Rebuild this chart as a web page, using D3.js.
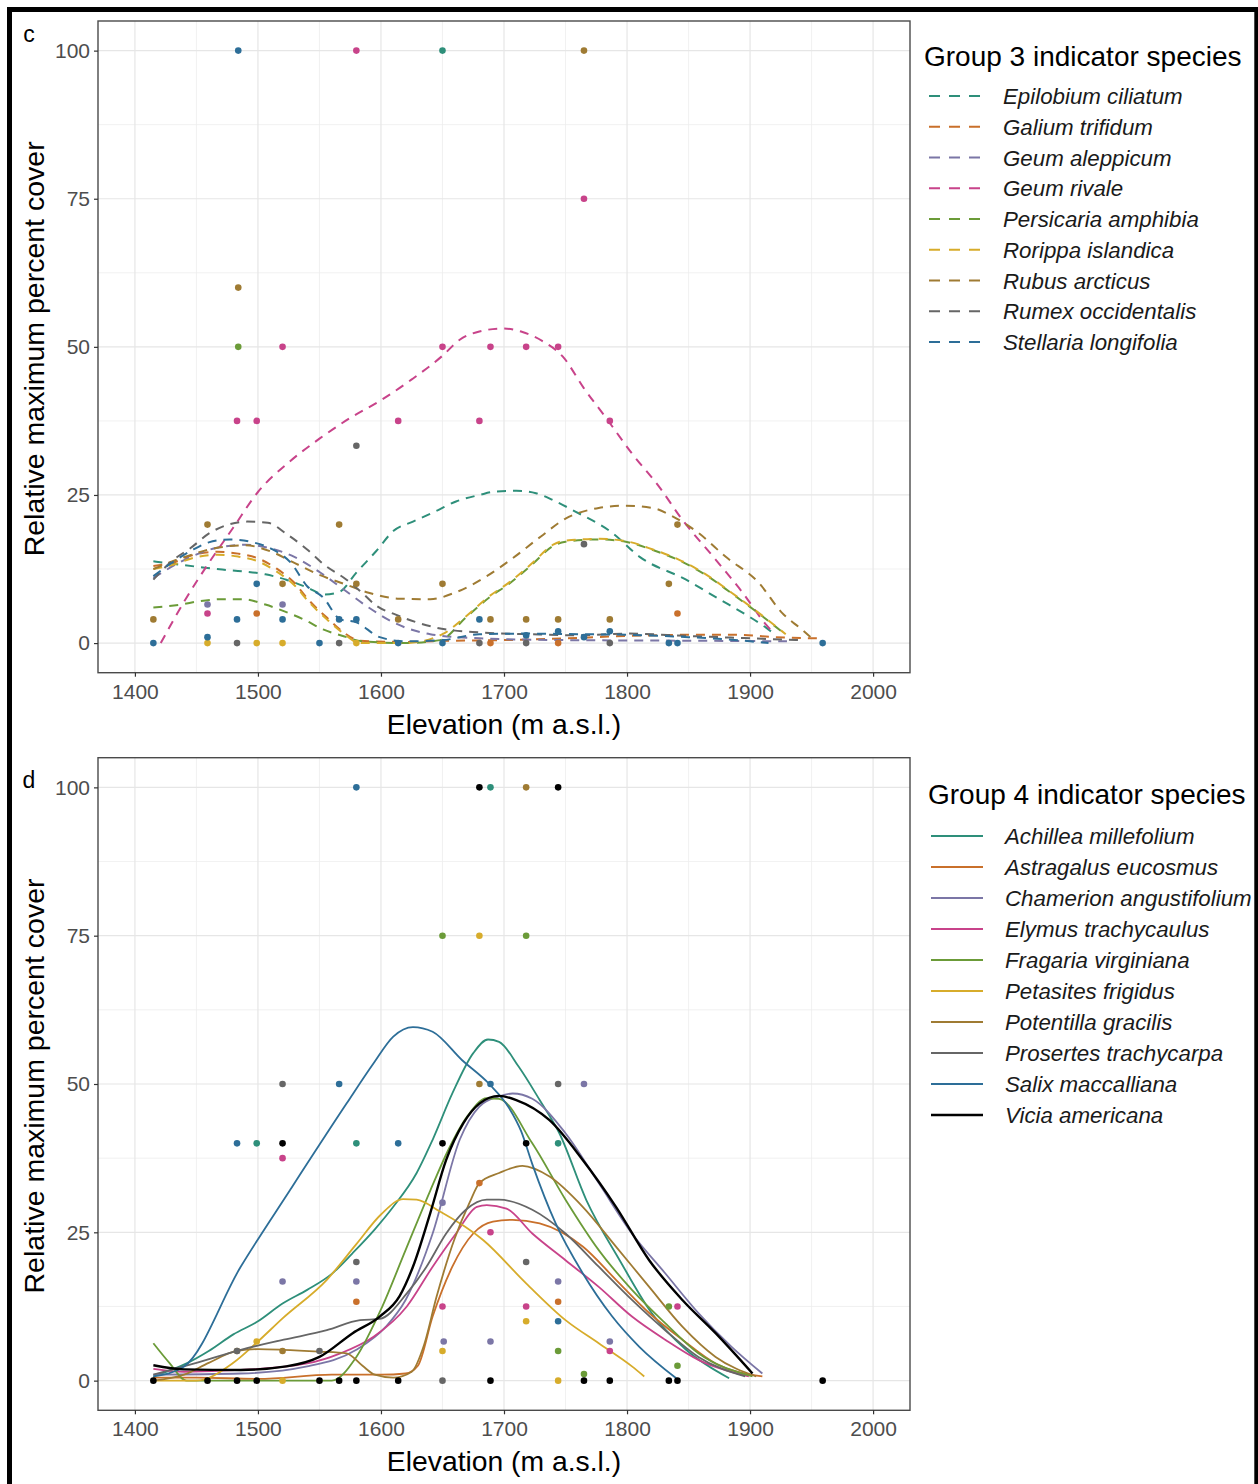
<!DOCTYPE html>
<html>
<head>
<meta charset="utf-8">
<script src="https://cdn.jsdelivr.net/npm/d3@7"></script>
<style>
  body { margin: 0; background: #fff; }
  svg { display: block; }
  text { font-family: "Liberation Sans", Arial, Helvetica, sans-serif; }
</style>
</head>
<body>
<svg id="fig" width="1258" height="1484"></svg>
<script>
// ---------- axes ----------
const elevationTicks = [1400, 1500, 1600, 1700, 1800, 1900, 2000];
const elevationMinor = [1450, 1550, 1650, 1750, 1850, 1950];
const coverTicks = [0, 25, 50, 75, 100];
const coverMinor = [12.5, 37.5, 62.5, 87.5];

// ---------- group 3 (panel c) ----------
const group3Names = ["Epilobium ciliatum", "Galium trifidum", "Geum aleppicum", "Geum rivale",
  "Persicaria amphibia", "Rorippa islandica", "Rubus arcticus", "Rumex occidentalis", "Stellaria longifolia"];

// observed relative maximum cover [elevation, cover]
const epilobiumCiliatumObs = [[1650, 100]];
const galiumTrifidumObs = [[1499, 5], [1689, 0], [1744, 0], [1841, 5]];
const geumAleppicumObs = [[1459, 6.5], [1520, 6.5]];
const geumRivaleObs = [[1459, 5], [1483, 37.5], [1499, 37.5], [1520, 50], [1580, 100], [1614, 37.5],
  [1650, 50], [1680, 37.5], [1689, 50], [1718, 50], [1744, 50], [1765, 75], [1786, 37.5]];
const persicariaAmphibiaObs = [[1484, 50]];
const rorippaIslandicaObs = [[1459, 0], [1499, 0], [1520, 0], [1580, 0]];
const rubusArcticusObs = [[1415, 4], [1459, 20], [1484, 60], [1520, 10], [1566, 20], [1580, 10], [1614, 4],
  [1650, 10], [1689, 4], [1718, 4], [1744, 4], [1765, 100], [1786, 4], [1834, 10], [1841, 20]];
const rumexOccidentalisObs = [[1483, 0], [1566, 0], [1580, 33.3], [1680, 0], [1718, 0], [1765, 16.7], [1786, 0]];
const stellariaLongifoliaObs = [[1415, 0], [1459, 1], [1484, 100], [1483, 4], [1499, 10], [1520, 4], [1550, 0],
  [1566, 4], [1580, 4], [1614, 0], [1650, 0], [1680, 4], [1718, 1.3], [1744, 2], [1765, 1], [1786, 2],
  [1834, 0], [1841, 0], [1959, 0]];

// smoothed response curves [elevation, fitted cover]
const epilobiumCiliatumFit = [[1415, 13.8], [1450, 12.9], [1471, 12.4], [1488, 12.1], [1506, 11.6], [1523, 10.7],
  [1540, 9.4], [1554, 8.2], [1566, 8.6], [1580, 11.9], [1596, 15.5], [1610, 18.9], [1626, 20.5], [1644, 22.2],
  [1661, 23.9], [1680, 25], [1694, 25.6], [1710, 25.7], [1726, 25.3], [1742, 23.9], [1758, 22.2], [1788, 18.6],
  [1810, 14.6], [1848, 10.7], [1875, 7.4], [1899, 4.5], [1913, 2.6], [1920, 1.5]];
const galiumTrifidumFit = [[1415, 13], [1431, 13.6], [1448, 14.9], [1467, 15.4], [1484, 15.1], [1500, 14.3],
  [1515, 12.6], [1529, 10.3], [1542, 7.1], [1556, 4.3], [1569, 1.9], [1583, 0.4], [1620, 0.2], [1660, 0.4],
  [1700, 0.5], [1750, 0.8], [1800, 1.2], [1850, 1.4], [1890, 1.4], [1920, 1], [1955, 0.8]];
const geumAleppicumFit = [[1415, 11], [1440, 14], [1465, 16], [1490, 16.6], [1510, 16], [1530, 14.5],
  [1550, 12], [1570, 9], [1590, 6], [1610, 3.5], [1640, 1.5], [1680, 0.8], [1750, 0.5], [1850, 0.4], [1930, 0.3]];
const geumRivaleFit = [[1421, 0], [1440, 7], [1460, 13.5], [1480, 19.5], [1500, 25.5], [1525, 30.5], [1550, 34.5],
  [1575, 38], [1600, 41], [1625, 44.5], [1650, 48.5], [1664, 51.2], [1680, 52.6], [1699, 53.1], [1715, 52.5],
  [1731, 51], [1748, 48.3], [1765, 43], [1783, 38], [1804, 32], [1826, 26.4], [1845, 20.8], [1872, 14.1],
  [1894, 8.5], [1913, 3.1], [1920, 1.5]];
const persicariaAmphibiaFit = [[1415, 6], [1437, 6.5], [1453, 7.1], [1471, 7.4], [1488, 7.4], [1506, 6.5],
  [1521, 5.4], [1537, 4], [1553, 2.3], [1569, 1.2], [1585, 0.3], [1620, 0], [1648, 0.5], [1669, 4.3],
  [1688, 7.7], [1704, 10], [1723, 13.3], [1740, 16.4], [1750, 17.1], [1777, 17.5], [1799, 17.1], [1821, 15.7],
  [1842, 14], [1864, 11.5], [1885, 8.4], [1907, 5], [1929, 1.4]];
const rorippaIslandicaFit = [[1415, 12.5], [1431, 13.2], [1448, 14.4], [1467, 14.9], [1484, 14.6], [1500, 13.8],
  [1515, 12.1], [1529, 9.9], [1542, 6.8], [1556, 4], [1569, 1.7], [1583, 0], [1620, 0], [1650, 1.5],
  [1669, 4.5], [1688, 7.9], [1704, 10.2], [1723, 13.5], [1740, 16.6], [1750, 17.3], [1777, 17.6], [1799, 17.2],
  [1821, 15.8], [1842, 14.1], [1864, 11.6], [1885, 8.5], [1907, 5.1], [1929, 1.5]];
const rubusArcticusFit = [[1415, 12.5], [1440, 14.5], [1465, 16], [1490, 16.5], [1510, 15.5], [1530, 13.5],
  [1550, 11.5], [1570, 10], [1590, 8.5], [1615, 7.5], [1640, 7.4], [1660, 8.5], [1686, 11.3], [1705, 14],
  [1730, 18], [1750, 21], [1777, 22.8], [1799, 23.2], [1821, 22.8], [1837, 21.4], [1858, 18.6], [1880, 14.6],
  [1907, 10.2], [1926, 5.1], [1942, 2.3], [1952, 0.5]];
const rumexOccidentalisFit = [[1415, 10.7], [1431, 14], [1445, 16], [1461, 18.6], [1476, 20], [1491, 20.5],
  [1508, 20.3], [1524, 18.3], [1540, 15.8], [1554, 13.2], [1572, 10.7], [1583, 8.8], [1597, 6.2], [1612, 4.8],
  [1629, 3.5], [1645, 2.6], [1680, 1.8], [1720, 1.5], [1760, 1.3], [1800, 1.6], [1850, 1.2], [1900, 0.8], [1940, 0.5]];
const stellariaLongifoliaFit = [[1415, 11.3], [1445, 15.5], [1460, 17], [1477, 17.5], [1496, 17], [1512, 15.8],
  [1527, 13.5], [1540, 9.6], [1553, 7.7], [1567, 4], [1580, 3.5], [1599, 1], [1620, 0.3], [1650, 0.5],
  [1680, 1.5], [1720, 1.6], [1760, 1.5], [1800, 1.4], [1850, 1], [1900, 0.3], [1915, 0]];

// ---------- group 4 (panel d) ----------
const group4Names = ["Achillea millefolium", "Astragalus eucosmus", "Chamerion angustifolium", "Elymus trachycaulus",
  "Fragaria virginiana", "Petasites frigidus", "Potentilla gracilis", "Prosertes trachycarpa", "Salix maccalliana",
  "Vicia americana"];

const achilleaMillefoliumObs = [[1499, 40], [1580, 40], [1689, 100], [1744, 40]];
const astragalusEucosmusObs = [[1580, 13.3], [1680, 33.3], [1744, 13.3]];
const chamerionAngustifoliumObs = [[1520, 16.7], [1580, 16.7], [1650, 30], [1651, 6.6], [1689, 6.6], [1744, 16.7],
  [1765, 50], [1786, 6.6]];
const elymusTrachycaulusObs = [[1520, 37.5], [1650, 12.5], [1689, 25], [1718, 12.5], [1786, 5], [1841, 12.5]];
const fragariaVirginianaObs = [[1650, 75], [1718, 75], [1744, 5], [1765, 1.1], [1834, 12.5], [1841, 2.5]];
const petasitesFrigidusObs = [[1499, 6.6], [1520, 0], [1650, 5], [1680, 75], [1718, 10], [1744, 0]];
const potentillaGracilisObs = [[1483, 5], [1520, 5], [1680, 50], [1718, 100]];
const prosertesTrachycarpaObs = [[1483, 5], [1520, 50], [1550, 5], [1580, 20], [1650, 0], [1718, 20], [1744, 50]];
const salixMaccallianaObs = [[1483, 40], [1566, 50], [1580, 100], [1614, 40], [1689, 50], [1744, 10]];
const viciaAmericanaObs = [[1415, 0], [1459, 0], [1483, 0], [1499, 0], [1520, 40], [1550, 0], [1566, 0], [1580, 0],
  [1614, 0], [1650, 40], [1680, 100], [1689, 0], [1718, 40], [1744, 100], [1765, 0], [1786, 0], [1834, 0],
  [1841, 0], [1959, 0]];

const achilleaMillefoliumFit = [[1415, 0.7], [1442, 2.9], [1460, 5], [1480, 7.8], [1500, 10], [1520, 13],
  [1540, 15.3], [1560, 18], [1577, 21.5], [1595, 25.5], [1610, 29.3], [1629, 35], [1642, 40.6], [1658, 48.4],
  [1675, 55.2], [1687, 57.5], [1696, 57.1], [1712, 52.9], [1729, 47.3], [1745, 41.7], [1767, 30.4], [1794, 20.3],
  [1820, 11.4], [1848, 5.2], [1883, 0.4]];
const astragalusEucosmusFit = [[1415, 0.5], [1450, 0.5], [1500, 0.3], [1560, 1], [1600, 1], [1620, 1.2],
  [1630, 2.5], [1642, 10.8], [1658, 19.2], [1675, 24.8], [1691, 26.8], [1707, 27.1], [1729, 26.5], [1764, 22.6],
  [1791, 17], [1818, 11.4], [1845, 6.9], [1872, 2.9], [1910, 0.7]];
const chamerionAngustifoliumFit = [[1415, 1], [1486, 1.2], [1540, 2.4], [1580, 5.2], [1604, 9.1], [1620, 13.6],
  [1642, 24.8], [1664, 40.6], [1680, 46.2], [1696, 47.9], [1707, 48.4], [1723, 47.5], [1750, 41.7], [1777, 33.3],
  [1804, 24.8], [1831, 18.1], [1858, 11.4], [1885, 5.7], [1910, 1.2]];
const elymusTrachycaulusFit = [[1415, 2], [1440, 1.5], [1486, 1.8], [1540, 2.9], [1567, 4.6], [1594, 7.4],
  [1621, 12.5], [1642, 19.2], [1661, 24.8], [1678, 29.3], [1686, 29.6], [1702, 29], [1723, 24.8], [1750, 20.3],
  [1777, 15.8], [1804, 10.8], [1831, 6.9], [1858, 3.5], [1899, 0.7]];
const fragariaVirginianaFit = [[1415, 6.3], [1428, 3], [1442, 0], [1500, 0], [1560, 0], [1580, 4], [1600, 12],
  [1620, 22], [1640, 32], [1655, 39], [1670, 44.5], [1686, 47.6], [1696, 47.5], [1723, 40], [1750, 30.5],
  [1777, 22], [1804, 15.3], [1831, 9.7], [1858, 4.6], [1902, 0.7]];
const petasitesFrigidusFit = [[1415, 0], [1450, 0], [1480, 3], [1500, 6.6], [1520, 10.5], [1556, 17], [1580, 23],
  [1600, 28], [1618, 30.6], [1629, 30.5], [1648, 28.5], [1683, 23.7], [1718, 16.4], [1750, 10.2], [1777, 6.3],
  [1804, 2.4], [1814, 0.7]];
const potentillaGracilisFit = [[1415, 0], [1440, 1], [1460, 3], [1483, 5], [1500, 5.3], [1520, 5.2], [1550, 4.9],
  [1572, 4.6], [1585, 2.5], [1595, 1], [1610, 0.5], [1625, 1.5], [1635, 6], [1645, 14], [1660, 24], [1672, 30],
  [1680, 33.3], [1696, 35], [1715, 36.2], [1737, 34.4], [1764, 29.3], [1791, 22.6], [1818, 15.8], [1845, 9.1],
  [1872, 4], [1905, 0.7]];
const prosertesTrachycarpaFit = [[1415, 1], [1450, 3], [1486, 5.2], [1521, 6.9], [1556, 8.5], [1583, 10.2],
  [1599, 10.4], [1621, 14.7], [1637, 19.2], [1653, 24.8], [1669, 28.8], [1686, 30.5], [1696, 30.5], [1723, 28.8],
  [1750, 24.8], [1777, 19.2], [1804, 13.6], [1831, 8.5], [1858, 4], [1896, 0.7]];
const salixMaccallianaFit = [[1415, 0.7], [1440, 2.4], [1486, 19.2], [1526, 32.1], [1572, 46.7], [1594, 53.5],
  [1610, 58], [1626, 59.6], [1642, 58.8], [1666, 54], [1688, 50], [1704, 46], [1714, 42], [1723, 36.5],
  [1742, 26.5], [1764, 18.1], [1788, 10.8], [1810, 5.7], [1840, 0.4]];
const viciaAmericanaFit = [[1415, 2.6], [1440, 1.9], [1486, 1.8], [1523, 2.4], [1550, 4], [1577, 8], [1599, 10.8],
  [1615, 14.2], [1626, 19.2], [1640, 28.2], [1653, 37.2], [1667, 43.4], [1680, 46.7], [1696, 48], [1710, 47.3],
  [1737, 43.9], [1764, 37.2], [1791, 29.3], [1818, 20.3], [1845, 13.6], [1872, 8], [1902, 1.2]];

// ---------- colours ----------
const palette = ["#2e8f7a", "#c9702b", "#7b76a6", "#c8438a", "#6b9b38", "#d7ac2b", "#9f7b33", "#666666", "#2d6e98", "#000000"];

const group3Obs = [epilobiumCiliatumObs, galiumTrifidumObs, geumAleppicumObs, geumRivaleObs, persicariaAmphibiaObs,
  rorippaIslandicaObs, rubusArcticusObs, rumexOccidentalisObs, stellariaLongifoliaObs];
const group3Fit = [epilobiumCiliatumFit, galiumTrifidumFit, geumAleppicumFit, geumRivaleFit, persicariaAmphibiaFit,
  rorippaIslandicaFit, rubusArcticusFit, rumexOccidentalisFit, stellariaLongifoliaFit];
const group3Colors = palette.slice(0, 9);

const group4Obs = [achilleaMillefoliumObs, astragalusEucosmusObs, chamerionAngustifoliumObs, elymusTrachycaulusObs,
  fragariaVirginianaObs, petasitesFrigidusObs, potentillaGracilisObs, prosertesTrachycarpaObs, salixMaccallianaObs,
  viciaAmericanaObs];
const group4Fit = [achilleaMillefoliumFit, astragalusEucosmusFit, chamerionAngustifoliumFit, elymusTrachycaulusFit,
  fragariaVirginianaFit, petasitesFrigidusFit, potentillaGracilisFit, prosertesTrachycarpaFit, salixMaccallianaFit,
  viciaAmericanaFit];
const group4Colors = palette.slice();

// ---------- drawing ----------
const svg = d3.select("#fig");
svg.append("rect").attr("width", 1258).attr("height", 1484).attr("fill", "#fff");

const plotLeft = 98, plotRight = 910;
const x = d3.scaleLinear().domain([1370, 2030]).range([plotLeft, plotRight]);
const FONT = '"Liberation Sans", Arial, sans-serif';

function drawPanel(cfg) {
  const y = d3.scaleLinear().domain([-5, 105]).range([cfg.bottom, cfg.top]);
  const g = svg.append("g");

  // panel background and grid
  g.append("rect").attr("x", plotLeft).attr("y", cfg.top)
    .attr("width", plotRight - plotLeft).attr("height", cfg.bottom - cfg.top).attr("fill", "#fff");
  const grid = g.append("g");
  grid.selectAll("line.xm").data(elevationMinor).join("line")
    .attr("x1", d => x(d)).attr("x2", d => x(d)).attr("y1", cfg.top).attr("y2", cfg.bottom)
    .attr("stroke", "#eeeeee").attr("stroke-width", 0.8);
  grid.selectAll("line.ym").data(coverMinor).join("line")
    .attr("y1", d => y(d)).attr("y2", d => y(d)).attr("x1", plotLeft).attr("x2", plotRight)
    .attr("stroke", "#eeeeee").attr("stroke-width", 0.8);
  grid.selectAll("line.xM").data(elevationTicks).join("line")
    .attr("x1", d => x(d)).attr("x2", d => x(d)).attr("y1", cfg.top).attr("y2", cfg.bottom)
    .attr("stroke", "#e6e6e6").attr("stroke-width", 1.2);
  grid.selectAll("line.yM").data(coverTicks).join("line")
    .attr("y1", d => y(d)).attr("y2", d => y(d)).attr("x1", plotLeft).attr("x2", plotRight)
    .attr("stroke", "#e6e6e6").attr("stroke-width", 1.2);

  // fitted curves
  const line = d3.line().x(d => x(d[0])).y(d => y(d[1])).curve(d3.curveMonotoneX);
  const clipId = "clip-" + cfg.tag;
  svg.append("clipPath").attr("id", clipId).append("rect")
    .attr("x", plotLeft).attr("y", cfg.top).attr("width", plotRight - plotLeft).attr("height", cfg.bottom - cfg.top);
  const curves = g.append("g").attr("clip-path", `url(#${clipId})`);
  cfg.fits.forEach((fit, i) => {
    curves.append("path").datum(fit).attr("d", line)
      .attr("fill", "none").attr("stroke", cfg.colors[i])
      .attr("stroke-width", cfg.widths[i])
      .attr("stroke-dasharray", cfg.dash || null)
      .attr("stroke-linejoin", "round");
  });

  // observations
  const dots = g.append("g");
  cfg.obs.forEach((pts, i) => {
    dots.selectAll(null).data(pts).join("circle")
      .attr("cx", d => x(d[0])).attr("cy", d => y(d[1])).attr("r", 3.3)
      .attr("fill", cfg.colors[i]);
  });

  // panel border
  g.append("rect").attr("x", plotLeft).attr("y", cfg.top)
    .attr("width", plotRight - plotLeft).attr("height", cfg.bottom - cfg.top)
    .attr("fill", "none").attr("stroke", "#4a4a4a").attr("stroke-width", 1.4);

  // axes
  const xAxis = g.append("g").attr("transform", `translate(0,${cfg.bottom})`)
    .call(d3.axisBottom(x).tickValues(elevationTicks).tickSize(4).tickPadding(7).tickFormat(d3.format("d")));
  const yAxis = g.append("g").attr("transform", `translate(${plotLeft},0)`)
    .call(d3.axisLeft(y).tickValues(coverTicks).tickSize(4).tickPadding(4));
  [xAxis, yAxis].forEach(a => {
    a.select(".domain").remove();
    a.selectAll(".tick line").attr("stroke", "#333").attr("stroke-width", 1.2);
    a.selectAll(".tick text").attr("fill", "#4d4d4d").style("font-size", "21px").style("font-family", FONT);
  });

  // axis titles
  g.append("text").attr("x", (plotLeft + plotRight) / 2).attr("y", cfg.bottom + 61)
    .attr("text-anchor", "middle").style("font-size", "28.3px").attr("fill", "#000")
    .text("Elevation (m a.s.l.)");
  g.append("text").attr("transform", `translate(44,${(cfg.top + cfg.bottom) / 2 + 2}) rotate(-90)`)
    .attr("text-anchor", "middle").style("font-size", "28.5px").attr("fill", "#000")
    .text("Relative maximum percent cover");

  // panel tag
  g.append("text").attr("x", 29).attr("y", cfg.tagY).attr("text-anchor", "middle")
    .style("font-size", "23px").attr("fill", "#000").text(cfg.tag);

  // legend
  const lg = g.append("g");
  lg.append("text").attr("x", cfg.legendX).attr("y", cfg.legendTitleY)
    .style("font-size", "28px").attr("fill", "#000").text(cfg.title);
  cfg.names.forEach((name, i) => {
    const cy = cfg.legendRow0 + i * cfg.legendStep;
    lg.append("line").attr("x1", cfg.keyX0).attr("x2", cfg.keyX1).attr("y1", cy).attr("y2", cy)
      .attr("stroke", cfg.colors[i]).attr("stroke-width", cfg.widths[i])
      .attr("stroke-dasharray", cfg.dash ? "11,9" : null);
    lg.append("text").attr("x", cfg.labelX).attr("y", cy + 8)
      .style("font-size", "22.3px").style("font-style", "italic").attr("fill", "#1a1a1a").text(name);
  });
}

drawPanel({
  tag: "c", tagY: 42, top: 21, bottom: 672.7,
  names: group3Names, obs: group3Obs, fits: group3Fit, colors: group3Colors,
  widths: group3Names.map(() => 2), dash: "9,7",
  title: "Group 3 indicator species", legendX: 924, legendTitleY: 66,
  legendRow0: 96, legendStep: 30.75, keyX0: 929, keyX1: 985, labelX: 1003
});

drawPanel({
  tag: "d", tagY: 788, top: 757.7, bottom: 1410.3,
  names: group4Names, obs: group4Obs, fits: group4Fit, colors: group4Colors,
  widths: group4Names.map((n, i) => i === 9 ? 2.4 : 1.8), dash: null,
  title: "Group 4 indicator species", legendX: 928, legendTitleY: 804,
  legendRow0: 836, legendStep: 31, keyX0: 931, keyX1: 983, labelX: 1005
});

// outer frame: left, top and right edges (bottom edge runs off the page)
svg.append("path")
  .attr("d", "M9.5,1484 V9.5 H1256.8 V1484")
  .attr("fill", "none").attr("stroke", "#000").attr("stroke-width", 5);
</script>
</body>
</html>
